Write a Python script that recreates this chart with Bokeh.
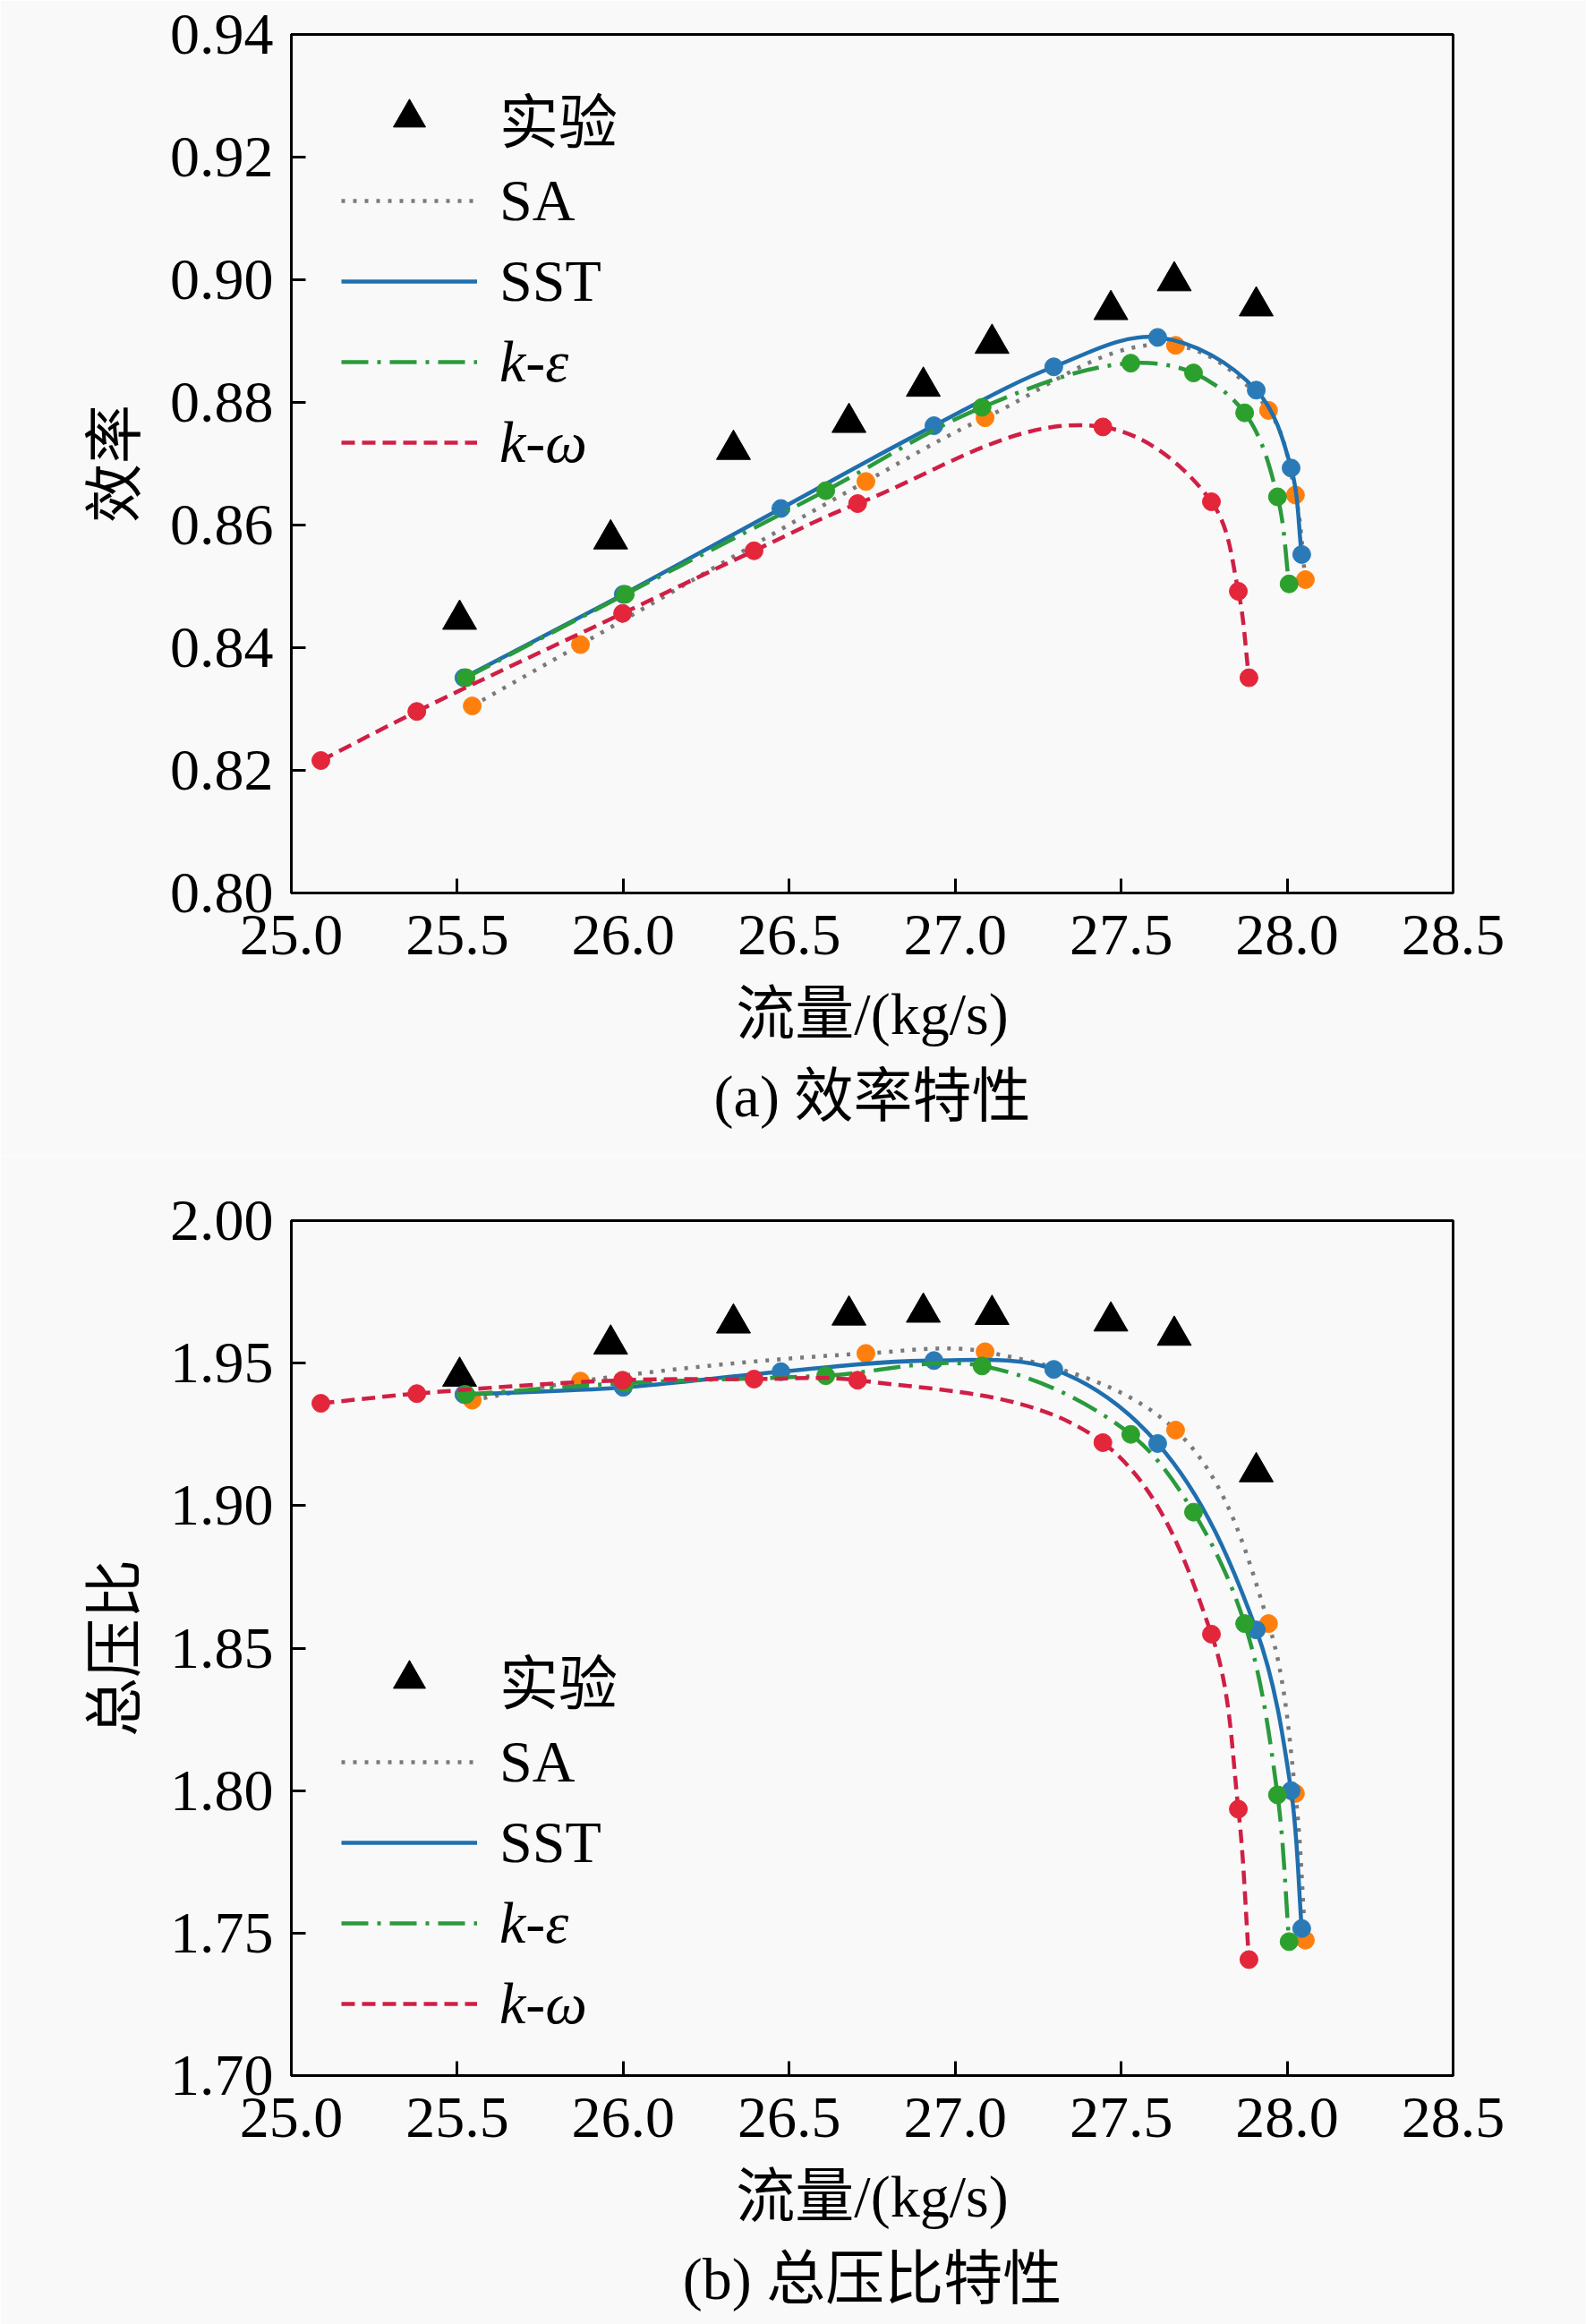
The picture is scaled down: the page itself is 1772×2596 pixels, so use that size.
import math
from bokeh.plotting import figure
from bokeh.layouts import column
from bokeh.models import (Range1d, FixedTicker, PrintfTickFormatter, Legend,
                          LegendItem, Title)
from bokeh.core.properties import value
from bokeh.embed import file_html
from bokeh.resources import INLINE

# ---------------- data ----------------
x_ticks = [25.0, 25.5, 26.0, 26.5, 27.0, 27.5, 28.0, 28.5]
eff_ticks = [0.80, 0.82, 0.84, 0.86, 0.88, 0.90, 0.92, 0.94]
pr_ticks = [1.70, 1.75, 1.80, 1.85, 1.90, 1.95, 2.00]

exp_x = [25.507, 25.962, 26.332, 26.680, 26.904, 27.111, 27.469, 27.660, 27.907]
exp_eff = [0.8446, 0.8577, 0.8723, 0.8767, 0.8826, 0.8896, 0.8951, 0.8998, 0.8957]
exp_pr = [1.9453, 1.9566, 1.9640, 1.9668, 1.9678, 1.9670, 1.9647, 1.9597, 1.9118]

sa_x = [25.545, 25.871, 26.731, 27.090, 27.664, 27.944, 28.025, 28.055]
sa_eff = [0.8305, 0.8405, 0.8671, 0.8775, 0.8893, 0.8787, 0.8649, 0.8511]
sa_pr = [1.9370, 1.9437, 1.9534, 1.9540, 1.9265, 1.8586, 1.7990, 1.7475]

sst_x = [25.520, 26.000, 26.475, 26.936, 27.297, 27.610, 27.907, 28.012, 28.044]
sst_eff = [0.8351, 0.8487, 0.8627, 0.8762, 0.8858, 0.8906, 0.8820, 0.8693, 0.8552]
sst_pr = [1.9390, 1.9415, 1.9470, 1.9509, 1.9478, 1.9218, 1.8564, 1.8000, 1.7516]

ke_x = [25.526, 26.006, 26.610, 27.081, 27.529, 27.718, 27.872, 27.971, 28.006]
ke_eff = [0.8351, 0.8487, 0.8656, 0.8792, 0.8864, 0.8848, 0.8783, 0.8646, 0.8504]
ke_pr = [1.9390, 1.9430, 1.9456, 1.9490, 1.9250, 1.8977, 1.8586, 1.7985, 1.7470]

kw_x = [25.089, 25.378, 25.998, 26.394, 26.706, 27.445, 27.772, 27.853, 27.885]
kw_eff = [0.8216, 0.8296, 0.8456, 0.8558, 0.8635, 0.8760, 0.8638, 0.8492, 0.8351]
kw_pr = [1.9359, 1.9393, 1.9440, 1.9444, 1.9440, 1.9221, 1.8549, 1.7935, 1.7407]

labels_a = ["实验", "SA", "SST"]
labels_b = ["k-ε", "k-ω"]

# ---------------- style ----------------
SERIF = "Liberation Serif, Noto Sans CJK SC"
FS = "66px"
BG = "#f9f9f9"
FIG_W = 1772
FRAME_L = 325
FRAME_W = 1298


def smooth(xs, ys, xr, yr, w, h):
    """Bezier segments through the data points (shape-preserving tangents)."""
    u = [(x - xr[0]) / (xr[1] - xr[0]) * w for x in xs]
    v = [(y - yr[0]) / (yr[1] - yr[0]) * h for y in ys]
    n = len(u)
    tan = []
    for i in range(n):
        if i == 0:
            dx, dy = u[1] - u[0], v[1] - v[0]
        elif i == n - 1:
            dx, dy = u[-1] - u[-2], v[-1] - v[-2]
        else:
            ax, ay = u[i] - u[i - 1], v[i] - v[i - 1]
            bx, by = u[i + 1] - u[i], v[i + 1] - v[i]
            la, lb = math.hypot(ax, ay), math.hypot(bx, by)
            dx, dy = ax / la + bx / lb, ay / la + by / lb
        L = math.hypot(dx, dy)
        tan.append((dx / L, dy / L))
    d = dict(x0=[], y0=[], x1=[], y1=[], cx0=[], cy0=[], cx1=[], cy1=[])
    bu = lambda a: xr[0] + a / w * (xr[1] - xr[0])
    bv = lambda a: yr[0] + a / h * (yr[1] - yr[0])
    for i in range(n - 1):
        L = math.hypot(u[i + 1] - u[i], v[i + 1] - v[i]) / 3.0
        d["x0"].append(xs[i]); d["y0"].append(ys[i])
        d["x1"].append(xs[i + 1]); d["y1"].append(ys[i + 1])
        d["cx0"].append(bu(u[i] + tan[i][0] * L))
        d["cy0"].append(bv(v[i] + tan[i][1] * L))
        d["cx1"].append(bu(u[i + 1] - tan[i + 1][0] * L))
        d["cy1"].append(bv(v[i + 1] - tan[i + 1][1] * L))
    return d


def make_panel(ys_list, exp_y, yr, yticks, yfmt, ylabel, caption,
               height, border_top, frame_h, leg_a_y, leg_b_y):
    p = figure(width=FIG_W, height=height, output_backend="svg",
               toolbar_location=None,
               x_range=Range1d(25.0, 28.5), y_range=Range1d(*yr),
               min_border_left=FRAME_L,
               min_border_right=FIG_W - FRAME_L - FRAME_W,
               min_border_top=border_top,
               min_border_bottom=height - border_top - frame_h,
               background_fill_color=BG, border_fill_color=BG)
    p.title.visible = False
    p.grid.visible = False
    p.outline_line_color = "black"
    p.outline_line_width = 3
    for ax in (p.xaxis[0], p.yaxis[0]):
        ax.axis_line_width = 3
        ax.major_tick_line_width = 3
        ax.major_tick_in = 16
        ax.major_tick_out = 0
        ax.minor_tick_in = 0
        ax.minor_tick_out = 0
        ax.major_label_text_font = "Liberation Serif"
        ax.major_label_text_font_size = FS
        ax.major_label_text_color = "black"
        ax.axis_label_text_font = SERIF
        ax.axis_label_text_font_size = FS
        ax.axis_label_text_font_style = "normal"
        ax.axis_label_text_color = "black"
    p.xaxis.ticker = FixedTicker(ticks=x_ticks)
    p.xaxis.formatter = PrintfTickFormatter(format="%.1f")
    p.yaxis.ticker = FixedTicker(ticks=yticks)
    p.yaxis.formatter = PrintfTickFormatter(format=yfmt)
    p.xaxis.major_label_standoff = 25
    p.yaxis.major_label_standoff = 20
    p.xaxis.axis_label = "流量/(kg/s)"
    p.yaxis.axis_label = ylabel
    p.xaxis.axis_label_standoff = 27
    p.yaxis.axis_label_standoff = 22

    w, h = FRAME_W, frame_h
    r_exp = p.scatter(exp_x, exp_y, marker="triangle", size=38,
                      fill_color="black", line_color="black")

    series = [
        (sa_x, ys_list[0], "#7a7a7a", "dotted", "#ff7f0e"),
        (sst_x, ys_list[1], "#1f6fae", "solid", "#2a7ab8"),
        (ke_x, ys_list[2], "#2a9a3c", "dashdot", "#2ca02c"),
        (kw_x, ys_list[3], "#d01f45", "dashed", "#e3263a"),
    ]
    dash = {"dotted": "4 9", "solid": "solid", "dashdot": "30 10 4 10",
            "dashed": "15 8"}
    line_r = []
    for xs, ys, lc, ld, mc in series:
        seg = smooth(xs, ys, (25.0, 28.5), yr, w, h)
        r = p.bezier(x0=seg["x0"], y0=seg["y0"], x1=seg["x1"], y1=seg["y1"],
                     cx0=seg["cx0"], cy0=seg["cy0"], cx1=seg["cx1"],
                     cy1=seg["cy1"], line_color=lc, line_width=4.5,
                     line_dash=dash[ld])
        line_r.append(r)
        p.scatter(xs, ys, marker="circle", size=20, fill_color=mc,
                  line_color=mc)

    common = dict(border_line_color=None, background_fill_alpha=0,
                  padding=0, margin=0, spacing=0, glyph_width=152,
                  glyph_height=90, label_height=90, label_standoff=25,
                  label_text_font=SERIF, label_text_font_size=FS,
                  label_text_color="black")
    leg_a = Legend(items=[LegendItem(label=value(labels_a[0]), renderers=[r_exp]),
                          LegendItem(label=value(labels_a[1]), renderers=[line_r[0]]),
                          LegendItem(label=value(labels_a[2]), renderers=[line_r[1]])],
                   location=(56, leg_a_y), **common)
    leg_b = Legend(items=[LegendItem(label=value(labels_b[0]), renderers=[line_r[2]]),
                          LegendItem(label=value(labels_b[1]), renderers=[line_r[3]])],
                   location=(56, leg_b_y), label_text_font_style="italic",
                   **common)
    p.add_layout(leg_a)
    p.add_layout(leg_b)

    p.add_layout(Title(text=caption, align="center", text_font=SERIF,
                       text_font_size=FS, text_font_style="normal",
                       text_color="black", standoff=29), "below")
    return p


p1 = make_panel([sa_eff, sst_eff, ke_eff, kw_eff], exp_eff, (0.80, 0.94),
                eff_ticks, "%.2f", "效率", "(a) 效率特性",
                height=1290, border_top=38, frame_h=959,
                leg_a_y=638, leg_b_y=458)
p2 = make_panel([sa_pr, sst_pr, ke_pr, kw_pr], exp_pr, (1.70, 2.00),
                pr_ticks, "%.2f", "总压比", "(b) 总压比特性",
                height=1306, border_top=73, frame_h=959,
                leg_a_y=215, leg_b_y=35)

layout = column(p1, p2)
open("out.html", "w").write(file_html(layout, INLINE))
